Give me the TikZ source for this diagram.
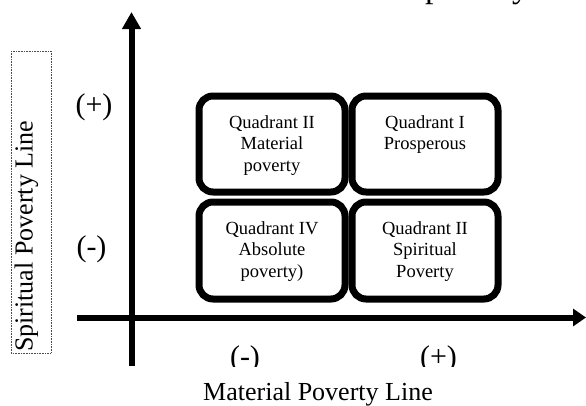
\documentclass[tikz,border=0pt]{standalone}
\usepackage{fontspec}
\setmainfont{Liberation Serif}
\usetikzlibrary{arrows.meta,positioning}
\tikzset{
x=1pt, y=-1pt,
quadrant/.style={draw=black,line width=7pt,rounded corners=14pt,minimum width=146pt,minimum height=96pt,inner sep=0pt},
qtext/.style={align=center,inner sep=0pt,font=\fontsize{18.5}{21.5}\selectfont},
axis/.style={line width=6pt,draw=black},
xtip/.style={-{Triangle[length=13pt,width=17pt]}},
ytip/.style={-{Triangle[length=17pt,width=18pt]}},
sign/.style={inner sep=0pt,font=\fontsize{30}{36}\selectfont},
caption/.style={inner sep=0pt,font=\fontsize{26}{30}\selectfont},
}
\begin{document}
\begin{tikzpicture}
\useasboundingbox (0,0) rectangle (586,405);
\node[anchor=base west,inner sep=0pt,font=\fontsize{34}{40}\selectfont] (title) at (425,-2.4) {poverty};

\node[quadrant] (q2) at (272,144) {};
\node[quadrant] (q1) at (425,144) {};
\node[quadrant,minimum height=97pt] (q4) at (272,250.5) {};
\node[quadrant,minimum height=97pt] (q3) at (425,250.5) {};
\node[qtext,below=22.5pt of q2.north] (q2text) {Quadrant II\\Material\\poverty};
\node[qtext,below=22.5pt of q1.north] (q1text) {Quadrant I\\Prosperous};
\node[qtext,below=22.5pt of q4.north] (q4text) {Quadrant IV\\Absolute\\poverty)};
\node[qtext,below=22.5pt of q3.north] (q3text) {Quadrant II\\Spiritual\\Poverty};

\coordinate (xstart) at (77,317.5);
\coordinate (xend) at (586,317.5);
\coordinate (ystart) at (131.5,366);
\coordinate (yend) at (131.5,12);
\draw[axis,xtip] (xstart) -- (xend);
\draw[axis,ytip] (ystart) -- (yend);

\node[sign] (yplus) at (94,107) {(+)};
\node[sign] (yminus) at (91.5,249) {(-)};
\begin{scope}
\clip (0,0) rectangle (586,366);
\node[sign] (xminus) at (245,359.5) {(-)};
\node[sign] (xplus) at (438.5,359.5) {(+)};
\end{scope}

\node[caption,anchor=base] (xlabel) at (318,400) {Material Poverty Line};
\draw[densely dotted,line width=0.6pt,black!70] (11,51) rectangle (51,353);
\node[caption,rotate=90,anchor=base west] (ylabel) at (32.5,352) {Spiritual Poverty Line};
\end{tikzpicture}
\end{document}
